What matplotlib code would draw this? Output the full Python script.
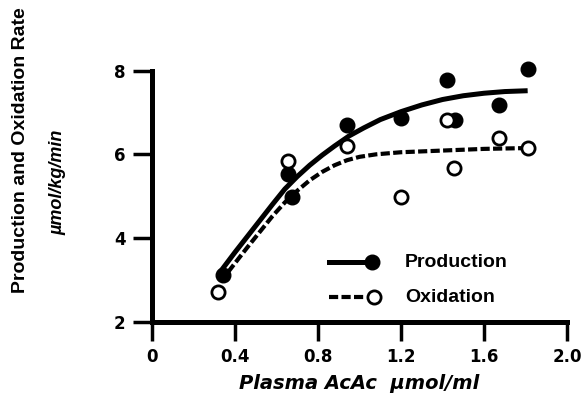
import numpy as np
import matplotlib.pyplot as plt

plt.rcParams['font.family'] = ['DejaVu Sans']

# measured points
prod_x = [0.34, 0.655, 0.675, 0.94, 1.20, 1.42, 1.46, 1.67, 1.81]
prod_y = [3.12, 5.54, 4.99, 6.71, 6.86, 7.77, 6.83, 7.17, 8.05]
ox_x = [0.32, 0.655, 0.94, 1.20, 1.42, 1.455, 1.67, 1.81]
ox_y = [2.72, 5.85, 6.21, 4.97, 6.81, 5.68, 6.40, 6.14]

# fitted curves
prod_fit_x = [0.33, 0.40, 0.46, 0.52, 0.58, 0.64, 0.70, 0.76, 0.82, 0.88,
              0.95, 1.02, 1.10, 1.20, 1.30, 1.40, 1.50, 1.60, 1.70, 1.81]
prod_fit_y = [3.20, 3.66, 4.04, 4.42, 4.80, 5.17, 5.47, 5.74, 5.98, 6.20,
              6.44, 6.63, 6.83, 7.02, 7.18, 7.31, 7.40, 7.46, 7.50, 7.52]
ox_fit_x = [0.33, 0.40, 0.46, 0.52, 0.58, 0.64, 0.70, 0.76, 0.82, 0.88,
            0.94, 1.00, 1.08, 1.20, 1.40, 1.60, 1.81]
ox_fit_y = [2.95, 3.40, 3.78, 4.15, 4.52, 4.85, 5.13, 5.38, 5.58, 5.74,
            5.86, 5.94, 6.00, 6.05, 6.09, 6.13, 6.15]

xticks = [0, 0.4, 0.8, 1.2, 1.6, 2.0]
xticklabels = ['0', '0.4', '0.8', '1.2', '1.6', '2.0']
yticks = [2, 4, 6, 8]

dash = (0, (2.2, 0.8))

fig = plt.figure(figsize=(5.83, 4.15), dpi=100)
ax = fig.add_axes([0.2607, 0.2248, 0.712, 0.605])

ax.plot(prod_fit_x, prod_fit_y, color='black', lw=3.6, solid_capstyle='butt')
ax.plot(ox_fit_x, ox_fit_y, color='black', lw=3.0, ls=dash)
ax.plot(prod_x, prod_y, 'o', color='black', ms=10.5, clip_on=False, zorder=5)
ax.plot(ox_x, ox_y, 'o', mfc='white', mec='black', mew=2, ms=9.5,
        clip_on=False, zorder=5)

# legend drawn by hand in axes coordinates
tr = ax.transAxes
ax.plot([0.426, 0.53], [0.236, 0.236], color='black', lw=3.6, transform=tr,
        clip_on=False)
ax.plot([0.53], [0.236], 'o', color='black', ms=10.5, transform=tr, clip_on=False)
ax.plot([0.426, 0.515], [0.097, 0.097], color='black', lw=3.0, ls=dash,
        transform=tr, clip_on=False)
ax.plot([0.534], [0.097], 'o', mfc='white', mec='black', mew=2, ms=9.5,
        transform=tr, clip_on=False)
ax.text(0.61, 0.236, 'Production', transform=tr, fontsize=14, fontweight='bold',
        va='center', family='Liberation Sans')
ax.text(0.61, 0.097, 'Oxidation', transform=tr, fontsize=14, fontweight='bold',
        va='center', family='Liberation Sans')

ax.set_xlim(0, 2.0)
ax.set_ylim(2, 8)
ax.set_xticks(xticks)
ax.set_xticklabels(xticklabels)
ax.set_yticks(yticks)
for s in ['top', 'right']:
    ax.spines[s].set_visible(False)
for s in ['left', 'bottom']:
    ax.spines[s].set_linewidth(3.6)
ax.tick_params(length=14, width=2.5, labelsize=12, pad=5)
for lab in ax.get_xticklabels() + ax.get_yticklabels():
    lab.set_fontweight('bold')

ax.set_xlabel('Plasma AcAc  \u00b5mol/ml', fontsize=14, fontweight='bold',
              style='italic', labelpad=6)
fig.text(0.036, 0.638, 'Production and Oxidation Rate', rotation=90,
         fontsize=14, fontweight='bold', ha='center', va='center',
         family='Liberation Sans')
fig.text(0.1, 0.561, '\u00b5mol/kg/min', rotation=90, fontsize=13,
         fontweight='bold', style='italic', ha='center', va='center',
         family='Liberation Sans')

plt.savefig('out.png', dpi=100)
